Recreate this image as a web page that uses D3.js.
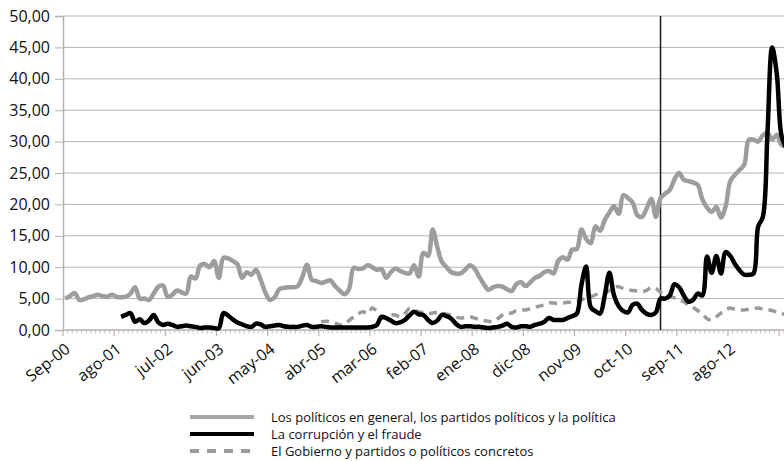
<!DOCTYPE html>
<html>
<head>
<meta charset="utf-8">
<script src="https://cdn.jsdelivr.net/npm/d3@7"></script>
<style>
  body { margin: 0; background: #fff; }
  svg { display: block; font-family: "Open Sans", sans-serif; }
</style>
</head>
<body>
<div id="chart"></div>
<script>
// monthly series, first category = Sep 2000
var startMonth = new Date(2000, 8, 1);
var nMonths = 156;
var tickLabels = ["Sep-00", "ago-01", "jul-02", "jun-03", "may-04", "abr-05", "mar-06",
                  "feb-07", "ene-08", "dic-08", "nov-09", "oct-10", "sep-11", "ago-12"];
var tickEvery = 11;
var markIndex = 128; // vertical line (may-11)

var seriesNames = [
  "Los políticos en general, los partidos políticos y la política",
  "La corrupción y el fraude",
  "El Gobierno y partidos o políticos concretos"
];

// Los políticos en general... (from Sep-00)
var politicosStart = 0;
var politicos = [
  5.0, 5.4, 5.9, 4.8, 4.9, 5.2, 5.4, 5.6, 5.4, 5.3,
  5.6, 5.3, 5.2, 5.3, 5.8, 6.8, 5.0, 5.0, 4.8, 5.8,
  6.9, 7.1, 5.3, 5.6, 6.3, 6.0, 5.8, 8.5, 8.2, 10.3,
  10.5, 10.0, 11.0, 8.3, 11.5, 11.4, 11.0, 10.5, 8.3, 9.2,
  8.8, 9.6, 8.0, 6.0, 4.8, 5.2, 6.5, 6.7, 6.8, 6.8,
  7.0, 8.5, 10.4, 8.0, 7.8, 7.5, 7.7, 7.9, 7.0, 6.3,
  5.7, 6.5, 9.9, 9.7, 9.8, 10.3, 10.0, 9.6, 9.7, 8.3,
  9.2, 9.8, 9.4, 9.1, 9.0, 10.3, 8.5, 12.3, 11.8, 16.0,
  13.2, 10.8, 10.0, 9.2, 9.0, 9.0, 9.6, 10.3, 9.8, 8.5,
  7.3, 6.4, 6.8, 7.0, 6.9, 6.5, 6.2, 7.3, 7.6, 7.0,
  7.6, 8.3, 8.6, 9.2, 9.4, 9.0, 11.0, 11.6, 11.2, 12.8,
  12.9, 16.0, 14.5, 13.8, 16.5, 15.8, 17.5, 18.7, 19.7, 18.5,
  21.5, 21.0, 20.3, 18.3, 18.0, 19.3, 20.9, 18.0, 21.0, 21.7,
  22.3, 24.0, 25.0, 23.9, 23.7, 23.5, 23.1, 20.8, 19.5, 18.8,
  19.6, 17.9, 19.7, 23.7, 24.7, 25.5, 26.3, 30.3, 30.3, 30.0,
  31.0, 31.4, 30.3, 31.1, 29.5, 29.3
];

// La corrupción y el fraude (from Sep-01)
var corrupcionStart = 12;
var corrupcion = [
  2.1, 2.4, 2.7, 1.3, 1.7, 1.1, 1.5, 2.4, 1.2, 0.8,
  1.0, 0.8, 0.5, 0.6, 0.7, 0.6, 0.5, 0.3, 0.4, 0.4,
  0.3, 0.3, 2.7, 2.3, 1.7, 1.2, 0.9, 0.6, 0.5, 1.0,
  0.9, 0.5, 0.6, 0.7, 0.8, 0.6, 0.5, 0.5, 0.5, 0.7,
  0.8, 0.5, 0.5, 0.6, 0.5, 0.4, 0.4, 0.4, 0.4, 0.4,
  0.4, 0.4, 0.4, 0.4, 0.5, 0.8, 2.1, 1.9, 1.5, 1.1,
  1.2, 1.6, 2.3, 2.9, 2.5, 2.4, 1.6, 1.1, 1.5, 2.4,
  2.2, 1.8, 1.0, 0.5, 0.6, 0.6, 0.5, 0.5, 0.4, 0.3,
  0.4, 0.5, 0.7, 1.0, 0.5, 0.4, 0.6, 0.6, 0.5, 0.8,
  1.0, 1.3, 1.9, 1.6, 1.6, 1.6, 1.9, 2.2, 2.6, 7.2,
  10.1, 3.6, 3.0, 2.6, 5.5, 9.1, 5.5, 3.8, 3.0, 2.8,
  4.0, 4.2, 3.2, 2.6, 2.4, 2.8, 5.0, 5.0, 5.5, 7.3,
  6.8, 5.5, 4.5, 4.8, 5.8, 5.5, 11.7, 9.1, 11.8, 9.0,
  12.4, 11.8, 10.5, 9.5, 8.8, 8.8, 9.0, 16.5, 18.0, 31.4,
  45.0, 40.8, 31.0, 29.0
];

// El Gobierno y partidos o políticos concretos (from Abr-05)
var gobiernoStart = 55;
var gobierno = [
  1.3, 1.4, 1.3, 1.1, 0.8, 0.8, 1.5, 2.1, 2.6, 2.9,
  2.6, 3.5, 3.0, 2.0, 1.9, 2.4, 2.4, 2.1, 2.6, 3.4,
  3.2, 2.9, 2.8, 2.6, 2.7, 2.8, 2.7, 2.5, 2.4, 2.1,
  1.9, 2.0, 2.1, 1.9, 1.7, 1.5, 1.4, 1.3, 1.8, 2.4,
  2.7, 2.7, 3.1, 3.2, 3.2, 3.4, 3.7, 3.8, 4.0, 4.3,
  4.3, 4.2, 4.3, 4.4, 4.4, 4.5, 4.8, 5.1, 5.3, 5.6,
  5.8, 5.9, 6.3, 6.8, 6.9, 6.6, 6.4, 6.3, 6.2, 6.1,
  6.3, 6.8, 6.6, 6.0, 5.7, 5.4, 5.1, 4.8, 4.5, 4.0,
  3.6, 3.1, 2.6, 1.8, 1.6, 2.1, 2.7, 3.2, 3.5, 3.3,
  3.2, 3.2, 3.3, 3.4, 3.5, 3.3, 3.2, 3.1, 2.8, 2.6,
  2.5
];

var yTicks = d3.range(0, 51, 5);

var width = 784, height = 461;
var plotLeft = 63, plotTop = 16, plotBottom = 330;
var catWidth = 4.65;

var months = d3.timeMonth.range(startMonth, d3.timeMonth.offset(startMonth, nMonths));

var x = d3.scaleBand()
  .domain(d3.range(months.length))
  .range([plotLeft, plotLeft + months.length * catWidth])
  .paddingInner(0);

var y = d3.scaleLinear()
  .domain([0, 50])
  .range([plotBottom, plotTop]);

var es = d3.formatLocale({decimal: ",", thousands: ".", grouping: [3], currency: ["", "€"]});
var fmt = es.format(".2f");

var svg = d3.select("#chart").append("svg")
  .attr("width", width)
  .attr("height", height);

// grid
svg.append("g")
  .selectAll("line")
  .data(yTicks.filter(d => d > 0))
  .enter().append("line")
    .attr("x1", plotLeft).attr("x2", width)
    .attr("y1", d => y(d)).attr("y2", d => y(d))
    .attr("stroke", "#b9b1b1")
    .attr("stroke-width", 1);

// y axis
var yAxis = svg.append("g")
  .attr("transform", "translate(" + plotLeft + ",0)")
  .call(d3.axisLeft(y).tickValues(yTicks).tickFormat(fmt).tickSize(8).tickPadding(5));
yAxis.select(".domain").attr("stroke", "#b9b1b1").attr("stroke-width", 1.5);
yAxis.selectAll(".tick line").attr("stroke", "#b9b1b1");
yAxis.selectAll("text")
  .attr("fill", "#111")
  .style("font-size", "16px")
  .style("font-family", "'Open Sans', sans-serif");

// x axis line + ticks
var xAxis = svg.append("g");
xAxis.append("line")
  .attr("x1", plotLeft).attr("x2", width)
  .attr("y1", plotBottom).attr("y2", plotBottom)
  .attr("stroke", "#b9b1b1").attr("stroke-width", 1.5);
xAxis.selectAll(".minor")
  .data(d3.range(months.length))
  .enter().append("line")
    .attr("x1", d => x(d)).attr("x2", d => x(d))
    .attr("y1", plotBottom).attr("y2", d => plotBottom + (d % tickEvery === 0 ? 6 : 3.5))
    .attr("stroke", "#b9b1b1")
    .attr("stroke-width", d => d % tickEvery === 0 ? 1.2 : 0.8);

xAxis.selectAll(".lbl")
  .data(tickLabels)
  .enter().append("text")
    .attr("transform", (d, i) => "translate(" + (x(i * tickEvery) + x.bandwidth() / 2 + 6) + "," + (plotBottom + 21) + ") rotate(-38)")
    .attr("text-anchor", "end")
    .attr("fill", "#111")
    .style("font-size", "16px")
    .text(d => d);

// vertical marker
svg.append("line")
  .attr("x1", x(markIndex) + x.bandwidth() / 2).attr("x2", x(markIndex) + x.bandwidth() / 2)
  .attr("y1", plotTop).attr("y2", plotBottom)
  .attr("stroke", "#1a1a1a")
  .attr("stroke-width", 1.5);

var line = d3.line()
  .x(d => x(d.i) + x.bandwidth() / 2)
  .y(d => y(d.v))
  .curve(d3.curveCatmullRom.alpha(0.5));

var toPoints = (vals, start) => vals.map((v, k) => ({i: start + k, v: v}));

var series = [
  {name: seriesNames[0], pts: toPoints(politicos, politicosStart), color: "#9d9d9d", w: 4.5, dash: null},
  {name: seriesNames[1], pts: toPoints(corrupcion, corrupcionStart), color: "#000", w: 4.5, dash: null},
  {name: seriesNames[2], pts: toPoints(gobierno, gobiernoStart), color: "#9a9a9a", w: 3.5, dash: "8,6"}
];

// draw dashed first, then gray, then black on top
[2, 0, 1].forEach(k => {
  var s = series[k];
  svg.append("path")
    .datum(s.pts)
    .attr("d", line)
    .attr("fill", "none")
    .attr("stroke", s.color)
    .attr("stroke-width", s.w)
    .attr("stroke-linejoin", "round")
    .attr("stroke-dasharray", s.dash);
});

// legend
var legend = svg.append("g")
  .selectAll("g")
  .data(series)
  .enter().append("g")
    .attr("transform", (d, i) => "translate(190," + (417 + i * 17) + ")");
legend.append("line")
  .attr("x1", 0).attr("x2", 64)
  .attr("stroke", (d, i) => i === 0 ? "#a3a6aa" : d.color)
  .attr("stroke-width", 4)
  .attr("stroke-dasharray", d => d.dash ? "9,8" : null);
legend.append("text")
  .attr("x", 81).attr("y", 4.5)
  .attr("fill", "#111")
  .style("font-size", "13px")
  .text(d => d.name);
</script>
</body>
</html>
